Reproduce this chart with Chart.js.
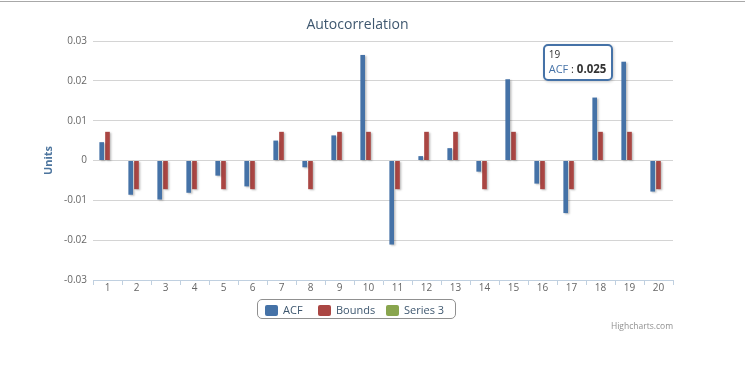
<!DOCTYPE html>
<html>
<head>
<meta charset="utf-8">
<script src="https://cdn.jsdelivr.net/npm/chart.js@4.4.1/dist/chart.umd.min.js"></script>
<style>
  html, body { margin: 0; padding: 0; background: #fff; }
  body { width: 745px; height: 366px; position: relative; overflow: hidden; font-family: "Open Sans", "DejaVu Sans", sans-serif; }
  #topline { position: absolute; left: 0; top: 1px; width: 745px; height: 1px; background: #a8a8a8; }
  #chartbox { position: absolute; left: 0; top: 0; width: 745px; height: 366px; }
  #title { position: absolute; left: 0; width: 715px; top: 14px; text-align: center; font-size: 14px; color: #3e576f; }
  #legend { position: absolute; left: 257px; top: 299px; width: 199px; height: 20px; border: 1px solid #909090; border-radius: 5px; box-sizing: border-box; }
  .item { position: absolute; top: 3px; font-size: 11px; color: #3e576f; line-height: 13px; white-space: nowrap; }
  .item i { display: inline-block; width: 13px; height: 11px; border-radius: 2px; vertical-align: -2px; margin-right: 5px; }
  #credit { position: absolute; right: 72px; top: 320px; font-size: 8.5px; color: #909090; }
  #tip { position: absolute; display: none; background: rgba(255,255,255,0.95); border: 2px solid #4572a7; border-radius: 5px; padding: 2px 5px 3px 4px; box-shadow: 1px 1px 3px rgba(0,0,0,0.2); color: #333; white-space: nowrap; }
  #tip .hd { font-size: 10px; line-height: 13px; }
  #tip .bd { font-size: 11px; line-height: 15px; }
</style>
</head>
<body>
<div id="topline"></div>
<div id="chartbox"><canvas id="acfChart" width="745" height="366"></canvas></div>
<div id="title">Autocorrelation</div>
<div id="legend"></div>
<div id="credit">Highcharts.com</div>
<div id="tip"></div>
<script>
// lags on the x axis
const lags = ['1','2','3','4','5','6','7','8','9','10','11','12','13','14','15','16','17','18','19','20'];
// autocorrelation per lag
const acfValues = [0.0046, -0.0086, -0.0098, -0.0081, -0.0038, -0.0065, 0.005, -0.0017, 0.0063, 0.0265,
                   -0.0211, 0.0011, 0.0031, -0.0028, 0.0204, -0.0058, -0.0132, 0.0158, 0.0248, -0.0078];
// confidence bound, sign follows the acf
const boundValues = [0.0072, -0.0072, -0.0072, -0.0072, -0.0072, -0.0072, 0.0072, -0.0072, 0.0072, 0.0072,
                     -0.0072, 0.0072, 0.0072, -0.0072, 0.0072, -0.0072, -0.0072, 0.0072, 0.0072, -0.0072];
// third series has no points
const series3Values = lags.map(() => null);
const yTicks = [-0.03, -0.02, -0.01, 0, 0.01, 0.02, 0.03];

const seriesNames = ['ACF', 'Bounds', 'Series 3'];
const seriesColors = ['#4572a7', '#aa4643', '#89a54e'];

// legend (html, like the highcharts one)
const legendPos = [7, 60, 128];
const legend = document.getElementById('legend');
seriesNames.forEach((name, i) => {
    const el = document.createElement('div');
    el.className = 'item';
    el.style.left = legendPos[i] + 'px';
    el.innerHTML = `<i style="background:${seriesColors[i]}"></i>${name}`;
    legend.appendChild(el);
});

/* ========== BAR SHADOW ========== */
const shadowPlugin = {
    id: 'barShadow',
    beforeDatasetsDraw(chart) {
        const ctx = chart.ctx;
        ctx.save();
        ctx.shadowColor = 'rgba(0,0,0,0.25)';
        ctx.shadowOffsetX = 1.5;
        ctx.shadowOffsetY = 1;
        ctx.shadowBlur = 2;
    },
    afterDatasetsDraw(chart) {
        chart.ctx.restore();
    }
};

/* ========== TOOLTIP ========== */
function externalTip(context) {
    const tip = context.tooltip;
    const el = document.getElementById('tip');
    if (!tip || tip.opacity === 0 || !tip.dataPoints || !tip.dataPoints.length) {
        el.style.display = 'none';
        return;
    }
    const dp = tip.dataPoints[0];
    el.innerHTML = `<div class="hd">${dp.label}</div>` +
        `<div class="bd"><span style="color:${seriesColors[dp.datasetIndex]}">${dp.dataset.label}</span> : <b style="font-size:11.5px">${dp.raw.toFixed(3)}</b></div>`;
    el.style.display = 'block';
    const w = el.offsetWidth;
    el.style.left = (tip.caretX - w - 10) + 'px';
    el.style.top = (tip.caretY - 18) + 'px';
}

const ctx = document.getElementById('acfChart').getContext('2d');
const chart = new Chart(ctx, {
    type: 'bar',
    data: {
        labels: lags,
        datasets: [acfValues, boundValues, series3Values].map((vals, i) => ({
            label: seriesNames[i],
            data: vals,
            backgroundColor: seriesColors[i],
            borderWidth: 0,
            categoryPercentage: 0.6,
            barPercentage: 0.8
        }))
    },
    options: {
        responsive: false,
        animation: false,
        events: [],
        layout: { padding: { left: 38, right: 72, top: 41, bottom: 66 } },
        plugins: {
            legend: { display: false },
            title: { display: false },
            tooltip: { enabled: false, external: externalTip }
        },
        scales: {
            x: {
                grid: { drawOnChartArea: false, drawTicks: true, tickLength: 5, color: '#c0d0e0', offset: true },
                border: { color: '#c0d0e0', width: 1 },
                ticks: { color: '#666', font: { family: 'Open Sans', size: 10 }, padding: -3, maxRotation: 0 },
                afterFit: (s) => { s.height = 20; }
            },
            y: {
                min: yTicks[0],
                max: yTicks[yTicks.length - 1],
                afterBuildTicks: (s) => { s.ticks = yTicks.map(v => ({ value: v })); },
                grid: {
                    drawTicks: false,
                    color: (c) => c.index === 0 ? 'rgba(0,0,0,0)' : '#d4d4d4'
                },
                border: { display: false },
                ticks: {
                    color: '#666',
                    font: { family: 'Open Sans', size: 10 },
                    padding: 6,
                    callback: (v) => v === 0 ? '0' : (Math.round(v * 100) / 100).toFixed(2)
                },
                title: {
                    display: true,
                    text: 'Units',
                    color: '#4d759e',
                    font: { family: 'Open Sans', size: 11, weight: 'bold' },
                    padding: { top: 4, bottom: 0 }
                },
                afterFit: (s) => { s.width = 55; }
            }
        }
    },
    plugins: [shadowPlugin]
});

// hovered point as in the picture: lag 19 of ACF
chart.tooltip.setActiveElements([{ datasetIndex: 0, index: 18 }], { x: 0, y: 0 });
chart.update();
</script>
</body>
</html>
